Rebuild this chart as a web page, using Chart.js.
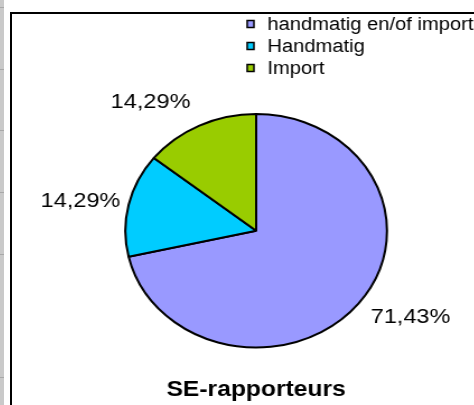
<!DOCTYPE html>
<html>
<head>
<meta charset="utf-8">
<script src="https://cdn.jsdelivr.net/npm/chart.js@4/dist/chart.umd.min.js"></script>
<style>
  html, body { margin: 0; padding: 0; background: #fff; overflow: hidden; }
  body { width: 474px; height: 405px; position: relative; }
  #gutter {
    position: absolute; left: 0; top: 0; width: 4px; height: 405px;
    background: repeating-linear-gradient(to bottom, #c9c9c9 0, #c9c9c9 7px, #a8a8a8 7px, #a8a8a8 8px, #c9c9c9 8px, #c9c9c9 61.7px);
  }
  #frame {
    position: absolute; left: 10px; top: 12px; width: 480px; height: 410px;
    border-left: 2px solid #000; border-top: 2px solid #000; overflow: hidden;
  }
  #pie {
    position: absolute; left: 0; top: 0;
    transform: scaleX(1.12); transform-origin: 0 0;
  }
</style>
</head>
<body>
<div id="gutter"></div>
<div id="frame">
  <canvas id="pie" width="420" height="391"></canvas>
</div>
<script>
// data
const labels = ["handmatig en/of import", "Handmatig", "Import"];
const counts = [5, 1, 1];
const colors = ["#9999FF", "#00CCFF", "#99CC00"];
const chartTitle = "SE-rapporteurs";

const fontFamily = '"Liberation Sans", Arial, sans-serif';

function pct(v) {
  const total = counts.reduce((a, b) => a + b, 0);
  return (v / total * 100).toFixed(2).replace(".", ",") + "%";
}

// legend drawn top right, one item per row
const legendPlugin = {
  id: "sideLegend",
  afterDraw(chart) {
    const c = chart.ctx;
    c.save();
    c.font = "18px " + fontFamily;
    c.textBaseline = "middle";
    c.textAlign = "left";
    chart.data.labels.forEach((lab, i) => {
      const y = 10 + i * 22;
      c.fillStyle = chart.data.datasets[0].backgroundColor[i];
      c.fillRect(210, y - 3.5, 6, 7);
      c.strokeStyle = "#000";
      c.lineWidth = 1.5;
      c.strokeRect(210, y - 3.5, 6, 7);
      c.fillStyle = "#000";
      c.fillText(lab, 228, y + 1);
    });
    c.restore();
  },
};

// percentage labels outside the slices
const pctPlugin = {
  id: "pctLabels",
  afterDatasetsDraw(chart) {
    const c = chart.ctx;
    const meta = chart.getDatasetMeta(0);
    c.save();
    c.font = "21px " + fontFamily;
    c.fillStyle = "#000";
    c.textBaseline = "middle";
    meta.data.forEach((arc, i) => {
      const p = arc.getProps(["x", "y", "startAngle", "endAngle", "outerRadius"], true);
      const mid = (p.startAngle + p.endAngle) / 2;
      const dx = Math.cos(mid);
      const dy = Math.sin(mid);
      const r = p.outerRadius + 4 + 16 * Math.abs(dy);
      const ax = p.x + dx * r;
      const ay = p.y + dy * r + dy * 8;
      c.textAlign = dx < 0 ? "right" : "left";
      c.fillText(pct(counts[i]), ax, ay);
    });
    c.restore();
  },
};

const ctx = document.getElementById("pie").getContext("2d");

new Chart(ctx, {
  type: "pie",
  data: {
    labels: labels,
    datasets: [
      {
        data: counts,
        backgroundColor: colors,
        borderColor: "#000",
        borderWidth: 2,
        offset: 0,
        hoverOffset: 0,
      },
    ],
  },
  options: {
    responsive: false,
    animation: false,
    devicePixelRatio: 1,
    layout: { padding: { left: 100, right: 84, top: 99, bottom: 2 } },
    plugins: {
      legend: { display: false },
      tooltip: { enabled: false },
      title: {
        display: true,
        position: "bottom",
        text: chartTitle,
        color: "#000",
        font: { family: fontFamily, size: 22, weight: "bold" },
        padding: { top: 28, bottom: 0 },
      },
    },
  },
  plugins: [legendPlugin, pctPlugin],
});
</script>
</body>
</html>
